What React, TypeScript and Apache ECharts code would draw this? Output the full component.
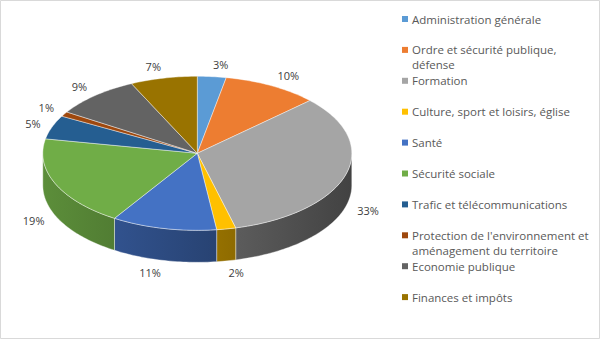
import React, { useEffect, useRef } from "react";
import * as echarts from "echarts";

const categories = [
  "Administration générale",
  "Ordre et sécurité publique,\ndéfense",
  "Formation",
  "Culture, sport et loisirs, église",
  "Santé",
  "Sécurité sociale",
  "Trafic et télécommunications",
  "Protection de l'environnement et\naménagement du territoire",
  "Economie publique",
  "Finances et impôts",
];
const values = [3, 10, 33, 2, 11, 19, 5, 1, 9, 7];
const colors = [
  "#5B9BD5",
  "#ED7D31",
  "#A5A5A5",
  "#FFC000",
  "#4472C4",
  "#70AD47",
  "#255E91",
  "#9E480E",
  "#636363",
  "#997300",
];

const FONT = "'Open Sans', 'Noto Sans', sans-serif";

function shade(hex: string, f: number): string {
  const n = parseInt(hex.slice(1), 16);
  const r = Math.round(((n >> 16) & 255) * f);
  const g = Math.round(((n >> 8) & 255) * f);
  const b = Math.round((n & 255) * f);
  return `rgb(${r},${g},${b})`;
}

export default function App() {
  const ref = useRef<HTMLDivElement>(null);

  useEffect(() => {
    document.body.style.margin = "0";
    if (!ref.current) return;
    const chart = echarts.init(ref.current, undefined, { renderer: "svg" });

    const total = values.reduce((a, b) => a + b, 0);
    const cx = 197.3;
    const cy = 153.3;
    const rx = 154.5;
    const ry = 77;
    const depth = 32;

    const pt = (a: number, dy = 0) => [cx + rx * Math.sin(a), cy - ry * Math.cos(a) + dy];

    const renderItem = (params: any, api: any) => {
      const i = params.dataIndex;
      let before = 0;
      for (let k = 0; k < i; k++) before += values[k];
      const v = api.value(0);
      const a0 = (before / total) * Math.PI * 2;
      const a1 = ((before + v) / total) * Math.PI * 2;
      const color = colors[i];
      const children: any[] = [];

      // side wall (front half only)
      const s0 = Math.max(a0, Math.PI / 2);
      const s1 = Math.min(a1, (Math.PI * 3) / 2);
      if (s1 > s0) {
        const pts: number[][] = [];
        const n = Math.max(2, Math.ceil((s1 - s0) / 0.02));
        for (let k = 0; k <= n; k++) pts.push(pt(s0 + ((s1 - s0) * k) / n));
        for (let k = n; k >= 0; k--) pts.push(pt(s0 + ((s1 - s0) * k) / n, depth));
        children.push({
          type: "polygon",
          shape: { points: pts },
          style: {
            fill: new echarts.graphic.LinearGradient(
              cx - rx,
              0,
              cx + rx,
              0,
              [
                { offset: 0, color: shade(color, 0.82) },
                { offset: 1, color: shade(color, 0.4) },
              ],
              true
            ),
            stroke: "rgba(255,255,255,0.55)",
            lineWidth: 0.7,
          },
        });
      }

      // top face
      const tp: number[][] = [[cx, cy]];
      const n2 = Math.max(2, Math.ceil((a1 - a0) / 0.02));
      for (let k = 0; k <= n2; k++) tp.push(pt(a0 + ((a1 - a0) * k) / n2));
      children.push({
        type: "polygon",
        shape: { points: tp },
        style: { fill: color, stroke: "rgba(255,255,255,0.6)", lineWidth: 0.7 },
      });

      // label
      const am = (a0 + a1) / 2;
      const s = Math.sin(am);
      const c = Math.cos(am);
      const anchor = pt(am, c < 0 ? depth : 0);
      const d = 12;
      const lx = anchor[0] + s * d;
      const ly = anchor[1] - c * d;
      children.push({
        type: "text",
        x: lx,
        y: ly,
        style: {
          text: Math.round((v / total) * 100) + "%",
          fill: "#404040",
          fontSize: 11,
          fontFamily: FONT,
          align: s >= 0 ? "left" : "right",
          verticalAlign: "middle",
        },
      });

      return { type: "group", children };
    };

    const legendTop = 19;
    const legendStep = 30.9;
    const legendGraphics: any[] = [];
    categories.forEach((name, i) => {
      const y = legendTop + i * legendStep;
      legendGraphics.push({
        type: "rect",
        shape: { x: 402, y: y - 3, width: 6, height: 6 },
        style: { fill: colors[i] },
      });
      legendGraphics.push({
        type: "text",
        x: 412,
        y: y - 7.5,
        style: {
          text: name,
          fill: "#595959",
          fontSize: 11.5,
          fontFamily: FONT,
          lineHeight: 15,
          verticalAlign: "top",
        },
      });
    });

    chart.setOption({
      animation: false,
      backgroundColor: "#ffffff",
      graphic: [
        {
          type: "rect",
          shape: { x: 0.5, y: 0.5, width: 599, height: 338 },
          style: { fill: "none", stroke: "#d9d9d9", lineWidth: 1 },
        },
        ...legendGraphics,
      ],
      series: [
        {
          type: "custom",
          coordinateSystem: "none",
          renderItem,
          data: values.map((v, i) => ({ value: [v], name: categories[i] })),
        },
      ],
    });

    return () => chart.dispose();
  }, []);

  return <div ref={ref} style={{ width: 600, height: 339 }} />;
}
